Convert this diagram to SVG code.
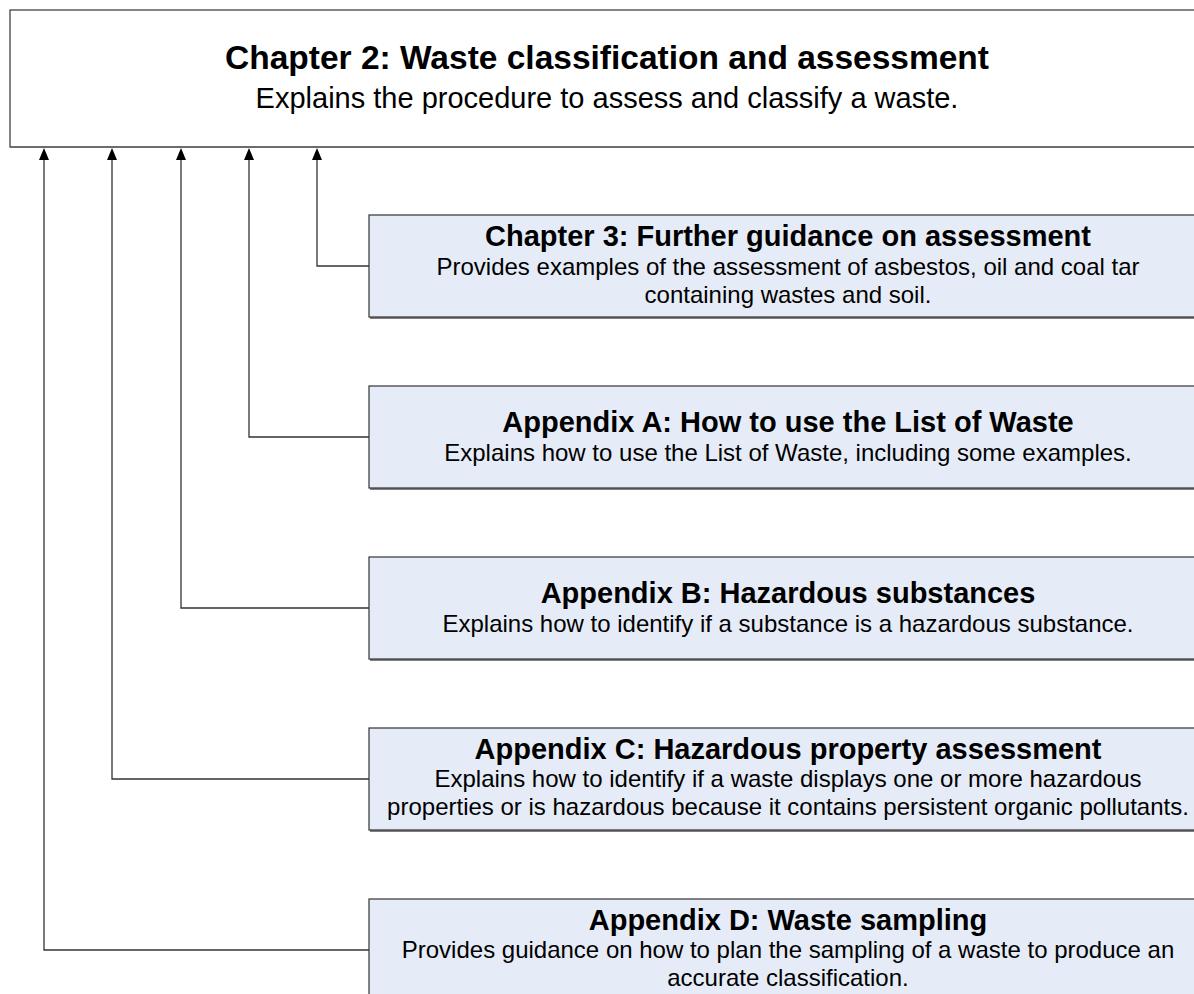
<svg xmlns="http://www.w3.org/2000/svg" width="1194" height="994" viewBox="0 0 1194 994">
<style>
text{font-family:"Liberation Sans",Arial,sans-serif;fill:#000;text-anchor:middle}
.t{font-size:33.5px;font-weight:bold}
.st{font-size:29px}
.h{font-size:29px;font-weight:bold}
.b{font-size:24px}
.box{fill:#e6ecf7;stroke:#333;stroke-width:1.2}
.shadow{fill:#7f7f7f}
.conn{fill:none;stroke:#333;stroke-width:1.3}
</style>
<defs>
<marker id="arr" markerWidth="10" markerHeight="12" refX="5" refY="0" orient="auto-start-reverse" markerUnits="userSpaceOnUse" viewBox="0 0 10 12">
<path d="M0,12 L5,0 L10,12 Z" fill="#000"/>
</marker>
</defs>
<rect width="1194" height="994" fill="#fff"/>
<g id="chapter2">
<rect x="10" y="10" width="1200" height="137" fill="#fff" stroke="#333" stroke-width="1.2"/>
<line x1="10" y1="147" x2="1194" y2="147" stroke="#666" stroke-width="1.5"/>
<text class="t" x="607" y="69">Chapter 2: Waste classification and assessment</text>
<text class="st" x="607" y="108">Explains the procedure to assess and classify a waste.</text>
</g>
<g id="connectors">
<path class="conn" d="M369,266 H317 V160"/>
<path class="conn" d="M369,437 H249 V160"/>
<path class="conn" d="M369,608 H181 V160"/>
<path class="conn" d="M369,779 H112 V160"/>
<path class="conn" d="M369,950 H44 V160"/>
<path d="M317,148 L312,160 L322,160 Z M249,148 L244,160 L254,160 Z M181,148 L176,160 L186,160 Z M112,148 L107,160 L117,160 Z M44,148 L39,160 L49,160 Z" fill="#000"/>
</g>
<g id="chapter3">
<rect class="shadow" x="370" y="217" width="840" height="102"/>
<rect class="box" x="369" y="215" width="840" height="102"/>
<text class="h" x="788" y="246">Chapter 3: Further guidance on assessment</text>
<text class="b" x="788" y="275">Provides examples of the assessment of asbestos, oil and coal tar</text>
<text class="b" x="788" y="303">containing wastes and soil.</text>
</g>
<g id="appendixA">
<rect class="shadow" x="370" y="388" width="840" height="102"/>
<rect class="box" x="369" y="386" width="840" height="102"/>
<text class="h" x="788" y="432">Appendix A: How to use the List of Waste</text>
<text class="b" x="788" y="461">Explains how to use the List of Waste, including some examples.</text>
</g>
<g id="appendixB">
<rect class="shadow" x="370" y="559" width="840" height="102"/>
<rect class="box" x="369" y="557" width="840" height="102"/>
<text class="h" x="788" y="603">Appendix B: Hazardous substances</text>
<text class="b" x="788" y="632">Explains how to identify if a substance is a hazardous substance.</text>
</g>
<g id="appendixC">
<rect class="shadow" x="370" y="730" width="840" height="102"/>
<rect class="box" x="369" y="728" width="840" height="102"/>
<text class="h" x="788" y="759">Appendix C: Hazardous property assessment</text>
<text class="b" x="788" y="787">Explains how to identify if a waste displays one or more hazardous</text>
<text class="b" x="788" y="815">properties or is hazardous because it contains persistent organic pollutants.</text>
</g>
<g id="appendixD">
<rect class="shadow" x="370" y="901" width="840" height="102"/>
<rect class="box" x="369" y="899" width="840" height="102"/>
<text class="h" x="788" y="930">Appendix D: Waste sampling</text>
<text class="b" x="788" y="958">Provides guidance on how to plan the sampling of a waste to produce an</text>
<text class="b" x="788" y="986">accurate classification.</text>
</g>
</svg>
